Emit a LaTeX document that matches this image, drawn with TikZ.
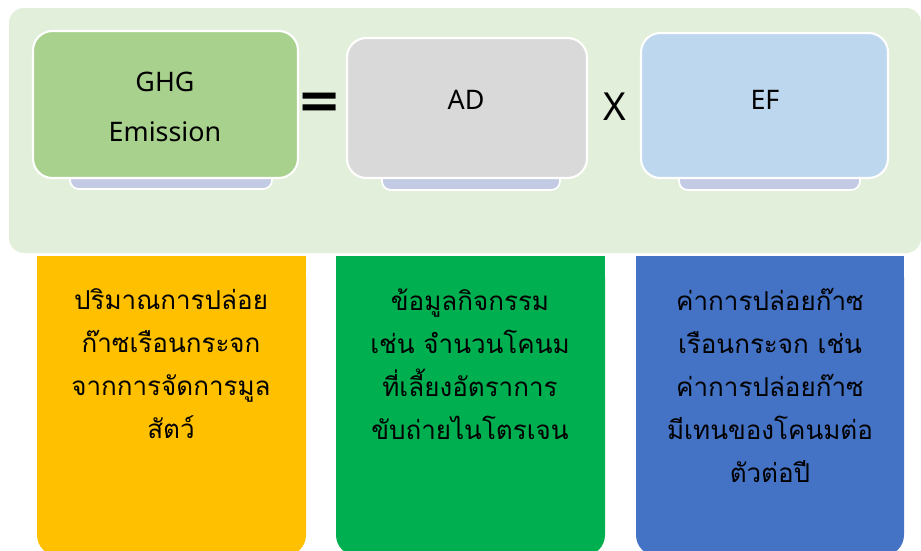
\documentclass[tikz,border=0pt]{standalone}
\usepackage{fontspec}
\setmainfont{Noto Sans}
\newfontfamily\thaifont[Script=Thai]{Loma}
\newfontfamily\symfont{DejaVu Sans}
\usetikzlibrary{positioning}
\definecolor{panelgreen}{HTML}{E2EFDA}
\definecolor{ghgfill}{HTML}{A9D18E}
\definecolor{adfill}{HTML}{D9D9D9}
\definecolor{effill}{HTML}{BDD7EE}
\definecolor{tabfill}{HTML}{C3CBE4}
\definecolor{lowyellow}{HTML}{FFC000}
\definecolor{lowgreen}{HTML}{00B050}
\definecolor{lowblue}{HTML}{4472C4}
\tikzset{topbox/.style={draw=white, line width=1.2pt, rounded corners=11, inner sep=0pt}}
\tikzset{tabbox/.style={draw=white, line width=1pt, fill=tabfill, rounded corners=5}}
\tikzset{toptxt/.style={font=\fontsize{15.3}{28.4}\selectfont, align=center, inner sep=0pt}}
\tikzset{optxt/.style={font=\fontsize{22}{24}\selectfont, inner sep=0pt}}
\tikzset{lowtxt/.style={font=\thaifont\fontsize{14.8}{24.5}\selectfont, align=center, inner sep=0pt, anchor=north}}

\begin{document}
\begin{tikzpicture}[x=0.02cm, y=-0.02cm]
			\useasboundingbox (0,0) rectangle (921,551);
			\fill[panelgreen, rounded corners=8.5] (9,8) rectangle (921,253);
%
			\draw[tabbox] (70,150) rectangle (272,189);
			\draw[tabbox] (382,150) rectangle (560,190);
			\draw[tabbox] (679,150) rectangle (860,190);
			\node[topbox, fill=ghgfill, minimum width=5.3cm, minimum height=2.94cm] (ghg) at (165.5,104.5) {};
			\node[topbox, fill=adfill, minimum width=4.8cm, minimum height=2.8cm] (ad) at (467,108) {};
			\node[topbox, fill=effill, minimum width=4.94cm, minimum height=2.9cm] (ef) at (764.5,105.5) {};
			\node[toptxt] (ghgt) at (165,107) {GHG\\Emission};
			\node[toptxt] (adt) at (466,100) {AD};
			\node[toptxt] (eft) at (765,100) {EF};
			\node[optxt, font=\symfont\bfseries\fontsize{30}{30}\selectfont] (eq) at (320,106) {=};
			\node[optxt] (times) at (615,107) {X};
%
			\fill[lowyellow, rounded corners=12] (37,256) rectangle (306,556);
			\fill[lowyellow] (37,256) rectangle (306,300);
			\fill[lowgreen, rounded corners=12] (336,256) rectangle (605,556);
			\fill[lowgreen] (336,256) rectangle (605,300);
			\fill[lowblue, rounded corners=12] (636,256) rectangle (904,556);
			\fill[lowblue] (636,256) rectangle (904,300);
			\node[lowtxt] (ghgd) at (171,288) {ปริมาณการปล่อย\\ก๊าซเรือนกระจก\\จากการจัดการมูล\\สัตว์};
			\node[lowtxt] (add) at (470,288) {ข้อมูลกิจกรรม\\เช่น จำนวนโคนม\\ที่เลี้ยงอัตราการ\\ขับถ่ายไนโตรเจน};
			\node[lowtxt] (efd) at (770,288) {ค่าการปล่อยก๊าซ\\เรือนกระจก เช่น\\ค่าการปล่อยก๊าซ\\มีเทนของโคนมต่อ\\ตัวต่อปี};
		\end{tikzpicture}
\end{document}
